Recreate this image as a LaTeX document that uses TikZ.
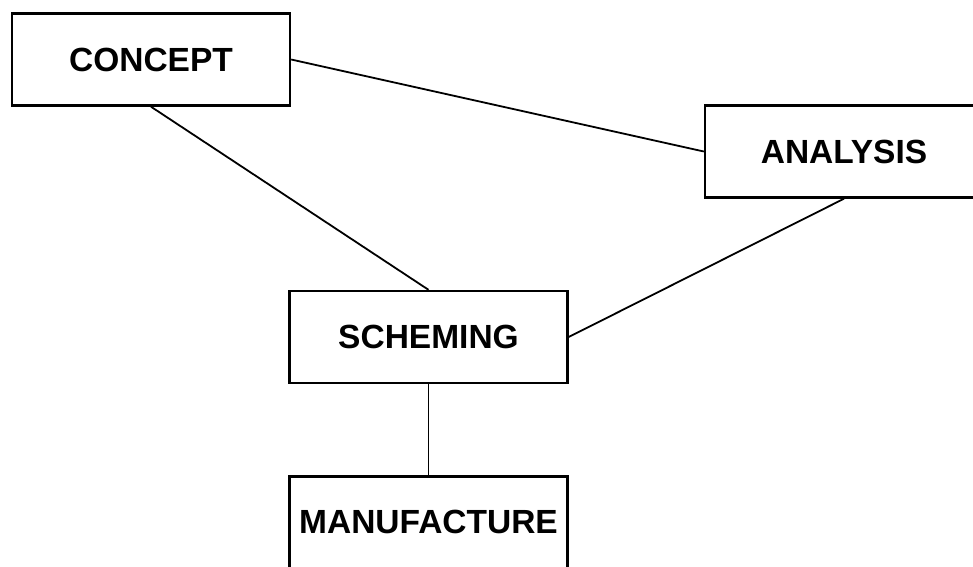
\documentclass[tikz,border=0pt]{standalone}
\usepackage{fontspec}
\setmainfont{Liberation Sans}
\usepackage{tikz}
\usetikzlibrary{positioning}
\tikzset{
  flow/block/.style={draw, line width=2.4pt, minimum width=278pt, minimum height=92pt, inner sep=0pt, align=center, font=\fontsize{33.5}{40}\selectfont\bfseries},
  flow/link/.style={line width=1.8pt}
}

\begin{document}
\begin{tikzpicture}[x=1pt, y=-1pt, node distance=91pt]
  \useasboundingbox (0,0) rectangle (973,566);
  \clip (0,0) rectangle (973,566);
  \node[flow/block] (concept) at (151,59.5) {CONCEPT};
  \node[flow/block] (analysis) at (844,151.5) {ANALYSIS};
  \node[flow/block] (scheming) at (428.5,337) {SCHEMING};
  \node[flow/block, below=of scheming] (manufacture) {MANUFACTURE};
  \draw[flow/link] (concept.east) -- (analysis.west);
  \draw[flow/link] (concept.south) -- (scheming.north);
  \draw[flow/link] (analysis.south) -- (scheming.east);
  \draw[flow/link] (scheming.south) -- (manufacture.north);
\end{tikzpicture}
\end{document}
